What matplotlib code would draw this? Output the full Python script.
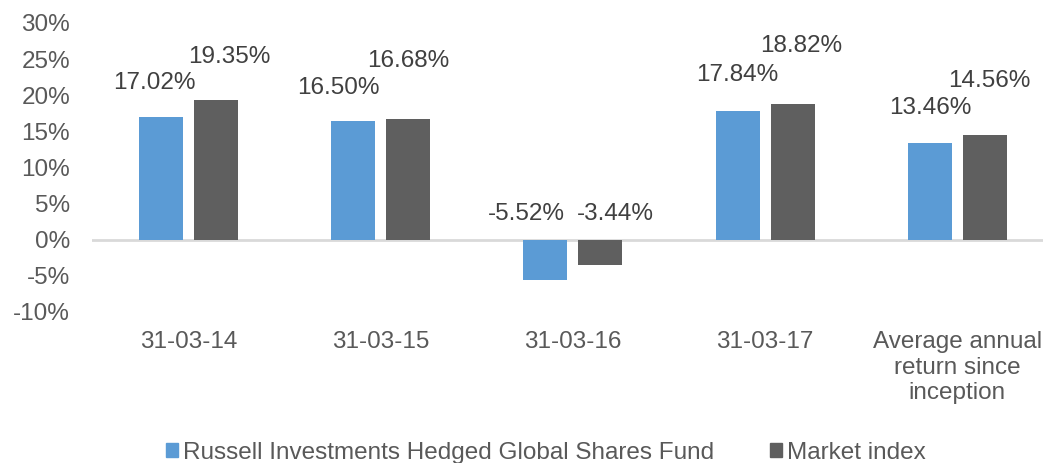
import matplotlib
matplotlib.use("Agg")
import matplotlib.pyplot as plt
import numpy as np
from matplotlib.patches import Patch

categories = ["31-03-14", "31-03-15", "31-03-16", "31-03-17",
              "Average annual\nreturn since\ninception"]
fund = [17.02, 16.50, -5.52, 17.84, 13.46]
market = [19.35, 16.68, -3.44, 18.82, 14.56]
series_names = ["Russell Investments Hedged Global Shares Fund", "Market index"]
yticks = [-10, -5, 0, 5, 10, 15, 20, 25, 30]

# label nudges in pixels (dx, dy) from bar top, as placed in the original
fund_nudge = [(-7, 34), (-15, 33), (-19, 26), (0, 36), (0, 35)]
market_nudge = [(13, 43), (0, 58), (15, 26), (9, 58), (5, 54)]

blue = "#5B9BD5"
dark = "#5F5F5F"
fs = 17.5
plt.rcParams["font.family"] = ["Liberation Sans", "DejaVu Sans"]
plt.rcParams["font.size"] = fs

fig = plt.figure(figsize=(10.43, 4.63), dpi=100)
ax = fig.add_axes([92.4 / 1043, 1 - 312 / 463, (1053.4 - 92.4) / 1043, 289 / 463])

x = np.arange(len(categories))
w = 0.229
off = 0.143
ax.bar(x - off, fund, w, color=blue, zorder=2)
ax.bar(x + off, market, w, color=dark, zorder=2)
ax.axhline(0, color="#D9D9D9", lw=2, zorder=1)

for vals, nudge, sign in [(fund, fund_nudge, -1), (market, market_nudge, 1)]:
    for i, v in enumerate(vals):
        dx, dy = nudge[i]
        ax.annotate(f"{v:.2f}%", (x[i] + sign * off, max(v, 0)),
                    xytext=(dx, dy), textcoords="offset pixels",
                    ha="center", va="center", color="#404040", fontsize=fs)

ax.set_ylim(-10, 30)
ax.set_xlim(-0.5, len(categories) - 0.5)
ax.set_yticks(yticks)
ax.set_yticklabels([f"{t}%" for t in yticks])
ax.set_xticks(x)
ax.set_xticklabels(categories, linespacing=1.2)
ax.tick_params(axis="y", length=0, pad=16, colors="#595959", labelsize=fs)
ax.tick_params(axis="x", length=0, pad=14, colors="#595959", labelsize=fs)
for s in ax.spines.values():
    s.set_visible(False)

handles = [Patch(color=blue), Patch(color=dark)]
fig.legend(handles, series_names, loc="center", bbox_to_anchor=(0.523, 1 - 453 / 463),
           ncol=2, frameon=False, handlelength=0.5, handleheight=0.5,
           handletextpad=0.2, columnspacing=2.3, fontsize=fs, labelcolor="#595959")

fig.savefig("out.png", dpi=100)
